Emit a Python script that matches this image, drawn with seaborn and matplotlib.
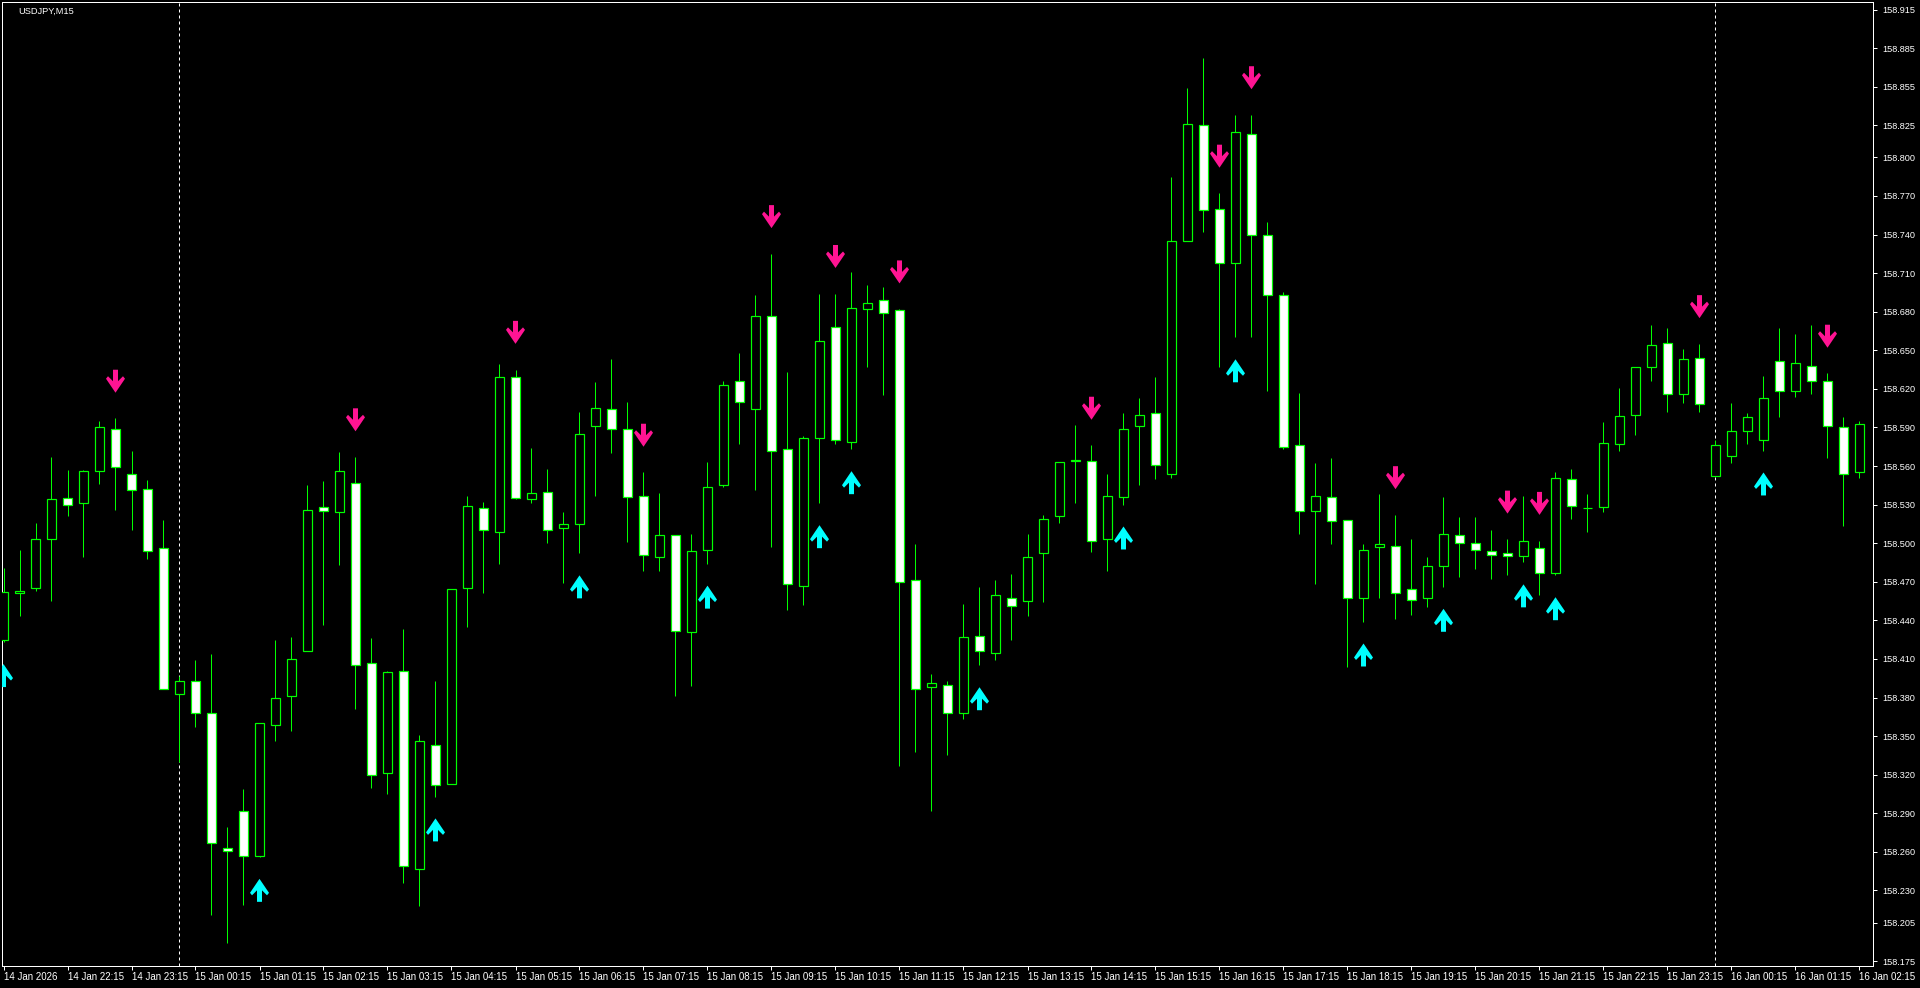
import numpy as np
import pandas as pd
import seaborn as sns
import matplotlib
matplotlib.use("Agg")
import matplotlib.pyplot as plt
from matplotlib.path import Path
from matplotlib.markers import MarkerStyle
from matplotlib import font_manager as fm

# ---------------- data ----------------
symbol_title = "USDJPY,M15"

opens = [158.425, 158.461, 158.465, 158.503, 158.535, 158.531, 158.556, 158.589, 158.554, 158.542,
         158.496, 158.383, 158.393, 158.368, 158.263, 158.292, 158.257, 158.359, 158.381, 158.416,
         158.528, 158.524, 158.547, 158.407, 158.321, 158.401, 158.247, 158.343, 158.313, 158.465,
         158.527, 158.509, 158.629, 158.534, 158.540, 158.512, 158.515, 158.591, 158.604, 158.589,
         158.537, 158.489, 158.506, 158.431, 158.495, 158.545, 158.626, 158.604, 158.677, 158.573,
         158.467, 158.582, 158.668, 158.579, 158.682, 158.689, 158.681, 158.471, 158.388, 158.390,
         158.368, 158.428, 158.415, 158.457, 158.455, 158.492, 158.521, 158.564, 158.564, 158.503,
         158.536, 158.591, 158.601, 158.554, 158.735, 158.825, 158.760, 158.718, 158.818, 158.740,
         158.693, 158.576, 158.525, 158.536, 158.518, 158.457, 158.497, 158.498, 158.464, 158.457,
         158.482, 158.506, 158.500, 158.494, 158.492, 158.490, 158.496, 158.477, 158.550, 158.527,
         158.528, 158.577, 158.600, 158.637, 158.656, 158.616, 158.644, 158.552, 158.568, 158.587,
         158.580, 158.642, 158.618, 158.638, 158.626, 158.590, 158.555]
highs = [158.481, 158.495, 158.516, 158.567, 158.557, 158.557, 158.595, 158.597, 158.572, 158.549,
         158.518, 158.397, 158.409, 158.414, 158.279, 158.309, 158.360, 158.425, 158.427, 158.545,
         158.548, 158.571, 158.567, 158.426, 158.401, 158.433, 158.351, 158.393, 158.464, 158.537,
         158.532, 158.639, 158.635, 158.574, 158.558, 158.524, 158.602, 158.625, 158.643, 158.610,
         158.555, 158.539, 158.506, 158.507, 158.563, 158.626, 158.648, 158.693, 158.725, 158.633,
         158.583, 158.694, 158.694, 158.711, 158.701, 158.699, 158.682, 158.499, 158.398, 158.393,
         158.453, 158.466, 158.471, 158.476, 158.507, 158.522, 158.563, 158.592, 158.576, 158.554,
         158.601, 158.613, 158.629, 158.785, 158.854, 158.877, 158.772, 158.833, 158.833, 158.750,
         158.695, 158.617, 158.562, 158.566, 158.518, 158.499, 158.538, 158.522, 158.503, 158.489,
         158.536, 158.520, 158.520, 158.510, 158.503, 158.537, 158.502, 158.555, 158.558, 158.538,
         158.594, 158.621, 158.637, 158.670, 158.667, 158.651, 158.655, 158.580, 158.609, 158.601,
         158.630, 158.667, 158.663, 158.670, 158.632, 158.598, 158.595]
lows = [158.423, 158.443, 158.463, 158.455, 158.521, 158.489, 158.546, 158.526, 158.510, 158.488,
        158.387, 158.330, 158.357, 158.211, 158.189, 158.219, 158.256, 158.346, 158.354, 158.416,
        158.436, 158.483, 158.371, 158.310, 158.305, 158.236, 158.218, 158.303, 158.313, 158.435,
        158.461, 158.484, 158.534, 158.531, 158.500, 158.469, 158.492, 158.537, 158.570, 158.501,
        158.478, 158.478, 158.381, 158.389, 158.484, 158.544, 158.577, 158.541, 158.497, 158.448,
        158.452, 158.531, 158.577, 158.573, 158.637, 158.615, 158.327, 158.338, 158.292, 158.335,
        158.363, 158.405, 158.409, 158.425, 158.443, 158.454, 158.516, 158.531, 158.493, 158.478,
        158.530, 158.545, 158.550, 158.551, 158.735, 158.742, 158.637, 158.660, 158.660, 158.618,
        158.573, 158.507, 158.468, 158.499, 158.404, 158.439, 158.457, 158.441, 158.444, 158.450,
        158.466, 158.474, 158.480, 158.472, 158.475, 158.485, 158.460, 158.475, 158.519, 158.509,
        158.524, 158.572, 158.584, 158.626, 158.602, 158.609, 158.602, 158.552, 158.562, 158.577,
        158.572, 158.598, 158.614, 158.616, 158.566, 158.513, 158.551]
closes = [158.462, 158.463, 158.503, 158.534, 158.530, 158.556, 158.590, 158.559, 158.541, 158.494,
          158.387, 158.393, 158.368, 158.267, 158.261, 158.257, 158.360, 158.380, 158.410, 158.526,
          158.525, 158.556, 158.405, 158.320, 158.400, 158.249, 158.346, 158.312, 158.464, 158.529,
          158.510, 158.629, 158.535, 158.539, 158.510, 158.515, 158.585, 158.605, 158.589, 158.536,
          158.491, 158.506, 158.432, 158.494, 158.544, 158.623, 158.610, 158.677, 158.572, 158.468,
          158.582, 158.657, 158.580, 158.683, 158.687, 158.679, 158.470, 158.387, 158.391, 158.368,
          158.427, 158.416, 158.460, 158.451, 158.489, 158.519, 158.563, 158.565, 158.502, 158.537,
          158.589, 158.600, 158.561, 158.735, 158.826, 158.759, 158.718, 158.820, 158.740, 158.693,
          158.575, 158.525, 158.537, 158.517, 158.457, 158.495, 158.499, 158.461, 158.456, 158.482,
          158.507, 158.500, 158.495, 158.491, 158.490, 158.502, 158.477, 158.551, 158.529, 158.527,
          158.578, 158.599, 158.637, 158.654, 158.616, 158.643, 158.608, 158.576, 158.587, 158.598,
          158.613, 158.618, 158.640, 158.626, 158.591, 158.554, 158.593]

time_labels = ["14 Jan 2026", "14 Jan 22:15", "14 Jan 23:15", "15 Jan 00:15", "15 Jan 01:15",
               "15 Jan 02:15", "15 Jan 03:15", "15 Jan 04:15", "15 Jan 05:15", "15 Jan 06:15",
               "15 Jan 07:15", "15 Jan 08:15", "15 Jan 09:15", "15 Jan 10:15", "15 Jan 11:15",
               "15 Jan 12:15", "15 Jan 13:15", "15 Jan 14:15", "15 Jan 15:15", "15 Jan 16:15",
               "15 Jan 17:15", "15 Jan 18:15", "15 Jan 19:15", "15 Jan 20:15", "15 Jan 21:15",
               "15 Jan 22:15", "15 Jan 23:15", "16 Jan 00:15", "16 Jan 01:15", "16 Jan 02:15"]

price_ticks = [158.915, 158.885, 158.855, 158.825, 158.800, 158.770, 158.740, 158.710, 158.680,
               158.650, 158.620, 158.590, 158.560, 158.530, 158.500, 158.470, 158.440, 158.410,
               158.380, 158.350, 158.320, 158.290, 158.260, 158.230, 158.205, 158.175]

down_signals = [7, 22, 32, 40, 48, 52, 56, 68, 76, 78, 87, 94, 96, 106, 114]
up_signals = [0, 16, 27, 36, 44, 51, 53, 61, 70, 77, 85, 90, 95, 97, 110]
day_breaks = [11, 107]

# ---------------- style ----------------
sns.set_style("dark", {"axes.facecolor": "black", "figure.facecolor": "black"})
names = {f.name for f in fm.fontManager.ttflist}
base_font = "Liberation Sans" if "Liberation Sans" in names else "DejaVu Sans"
narrow_font = "Liberation Sans Narrow" if "Liberation Sans Narrow" in names else base_font
plt.rcParams["font.family"] = [base_font, "DejaVu Sans"]
plt.rcParams["lines.scale_dashes"] = False

LIME = "#00ff00"
PINK = "#ff1493"
CYAN = "#00ffff"
W, H = 1920, 988
PX = 72 / 100.0  # points per pixel

fig = plt.figure(figsize=(W / 100, H / 100), dpi=100)
fig.patch.set_facecolor("black")
ax = fig.add_axes([2 / W, 1 - 966 / H, (1873 - 2) / W, (966 - 2.5) / H])
ax.set_facecolor("black")

df = pd.DataFrame({"bar": np.arange(len(opens)), "open": opens, "high": highs,
                   "low": lows, "close": closes})
df["bottom"] = df[["open", "close"]].min(axis=1)
df["body"] = (df["close"] - df["open"]).abs()
df["bull"] = df["close"] >= df["open"]

# wicks
ax.vlines(df["bar"], df["low"], df["high"], color=LIME, linewidth=1 * PX, zorder=2)
# bodies
face = np.where(df["bull"], "black", "white")
ax.bar(df["bar"], df["body"], bottom=df["bottom"], width=0.6, color=face,
       edgecolor=LIME, linewidth=1.2 * PX, zorder=3)

# day separators
for b in day_breaks:
    ax.axvline(b, color="white", linewidth=1 * PX, dashes=(3 * PX, 3 * PX), zorder=1)

# signal arrows (tip at origin)
down_verts = [(-2.5, 23), (2.5, 23), (2.5, 11.5), (7.5, 16.5), (9.5, 14), (0, 0),
              (-9.5, 14), (-7.5, 16.5), (-2.5, 11.5), (-2.5, 23)]
up_verts = [(x, -y) for x, y in down_verts]
down_marker = MarkerStyle(Path(down_verts, closed=True))
up_marker = MarkerStyle(Path(up_verts, closed=True))
arrow_s = (2 * 23 * PX) ** 2

dn = df.loc[down_signals]
upd = df.loc[up_signals]
sns.scatterplot(x=dn["bar"].values, y=(dn["high"] + 0.020).values, marker=down_marker,
                s=arrow_s, color=PINK, edgecolor="none", linewidth=0, ax=ax, zorder=5,
                legend=False)
sns.scatterplot(x=upd["bar"].values, y=(upd["low"] - 0.017).values, marker=up_marker,
                s=arrow_s, color=CYAN, edgecolor="none", linewidth=0, ax=ax, zorder=5,
                legend=False)

# axes / scales
ax.set_xlim(-1.5 / 16 - 0.0, (1873 - 3.5) / 16)
ax.set_ylim(158.915 - (966 - 9.5) / 1286, 158.915 + 7 / 1286)
ax.set_xlabel("")
ax.set_ylabel("")
ax.grid(False)
for sp in ax.spines.values():
    sp.set_color("white")
    sp.set_linewidth(1 * PX)
    sp.set_visible(True)

ax.yaxis.tick_right()
ax.set_yticks(price_ticks)
ax.set_yticklabels([f"{v:.3f}" for v in price_ticks])
ax.tick_params(axis="y", which="major", direction="out", length=4 * PX, width=1 * PX,
               color="white", labelcolor="white", labelsize=6.6, pad=4)

xt = np.arange(0, len(opens), 4)
ax.set_xticks(xt)
ax.set_xticklabels(time_labels, ha="left", fontfamily=[narrow_font, "DejaVu Sans"])
ax.tick_params(axis="x", which="major", direction="out", length=4 * PX, width=1 * PX,
               color="white", labelcolor="white", labelsize=7, pad=1.5)
ax.tick_params(left=False, bottom=True, right=True, top=False)

fig.text(18 / W, 1 - 11 / H, symbol_title, color="white", fontsize=6.7, va="center", ha="left")

fig.savefig("out.png", dpi=100, facecolor="black")
